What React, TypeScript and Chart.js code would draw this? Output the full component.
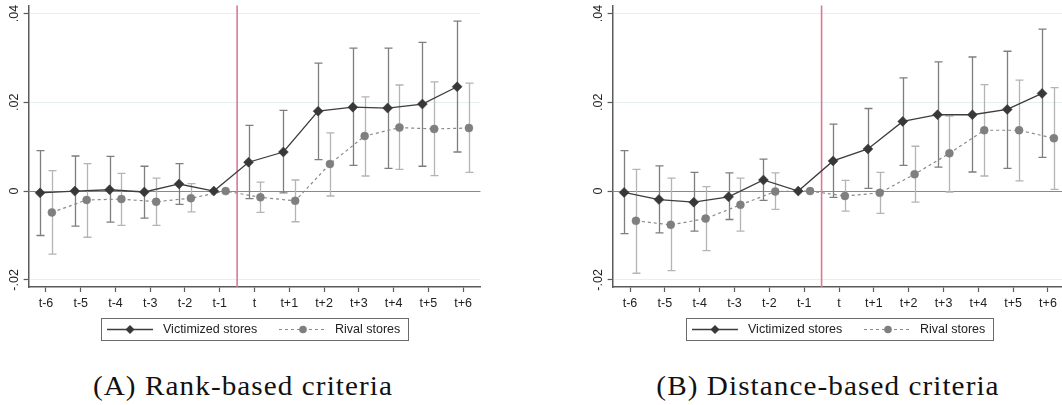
import React, { useEffect, useRef } from "react";
import { Chart, registerables } from "chart.js";

Chart.register(...registerables);

// ---------- data ----------
const periods = ["t-6", "t-5", "t-4", "t-3", "t-2", "t-1", "t", "t+1", "t+2", "t+3", "t+4", "t+5", "t+6"];
const yTickValues = [-0.02, 0, 0.02, 0.04];
const yTickLabels = ["-.02", "0", ".02", ".04"];
const legendLabels = ["Victimized stores", "Rival stores"];
const captions = ["(A) Rank-based criteria", "(B) Distance-based criteria"];

// Panel A: rank-based criteria
const rankVictim = [-0.0004, 0.0, 0.0003, -0.0002, 0.0016, 0, 0.0065, 0.0088, 0.018, 0.0189, 0.0187, 0.0196, 0.0235];
const rankVictimHi = [0.0091, 0.0079, 0.0078, 0.0056, 0.0062, null, 0.0148, 0.0182, 0.0288, 0.0322, 0.0322, 0.0335, 0.0383];
const rankVictimLo = [-0.01, -0.0079, -0.007, -0.0061, -0.003, null, -0.0017, -0.0004, 0.0071, 0.0058, 0.0051, 0.0056, 0.0088];
const rankRival = [-0.0048, -0.002, -0.0018, -0.0024, -0.0016, 0, -0.0014, -0.0022, 0.0061, 0.0124, 0.0143, 0.014, 0.0142];
const rankRivalHi = [0.0046, 0.0062, 0.004, 0.0029, 0.0017, null, 0.002, 0.0025, 0.0131, 0.0212, 0.0239, 0.0246, 0.0243];
const rankRivalLo = [-0.0142, -0.0104, -0.0077, -0.0077, -0.0047, null, -0.0048, -0.0069, -0.0011, 0.0034, 0.0049, 0.0035, 0.0042];

// Panel B: distance-based criteria
const distVictim = [-0.0003, -0.0019, -0.0025, -0.0013, 0.0025, 0, 0.0068, 0.0095, 0.0157, 0.0172, 0.0172, 0.0184, 0.022];
const distVictimHi = [0.0091, 0.0057, 0.0042, 0.0041, 0.0072, null, 0.0151, 0.0186, 0.0255, 0.0291, 0.0302, 0.0315, 0.0365];
const distVictimLo = [-0.0096, -0.0094, -0.009, -0.0064, -0.0021, null, -0.0014, 0.0006, 0.0058, 0.0054, 0.0043, 0.0051, 0.0076];
const distRival = [-0.0067, -0.0076, -0.0062, -0.0031, -0.0001, 0, -0.0011, -0.0004, 0.0038, 0.0085, 0.0137, 0.0137, 0.0119];
const distRivalHi = [0.0049, 0.0029, 0.001, 0.0029, 0.0041, null, 0.0024, 0.0042, 0.0101, 0.0169, 0.024, 0.025, 0.0233];
const distRivalLo = [-0.0185, -0.0179, -0.0134, -0.009, -0.0041, null, -0.0045, -0.005, -0.0025, -0.0002, 0.0034, 0.0023, 0.0004];

// ---------- styling ----------
const FONT = "'Liberation Sans', Arial, sans-serif";
const TICK_FONT_SIZE = 12.5;
const TEXT_COLOR = "#222222";
const AXIS_COLOR = "#5a5a5a";
const GRID_COLOR = "#e6efef";
const ZERO_COLOR = "#7c7cf2";
const EVENT_COLOR = "#d97a92";
const DODGE = 0.17;
const CANVAS_H = 345;

const refLinesPlugin = {
  id: "refLines",
  beforeDatasetsDraw(chart: any) {
    const { ctx, chartArea: a, scales } = chart;
    const x = scales.x;
    const y = scales.y;
    ctx.save();
    const y0 = Math.round(y.getPixelForValue(0)) + 0.5;
    ctx.strokeStyle = ZERO_COLOR;
    ctx.lineWidth = 1.2;
    ctx.beginPath();
    ctx.moveTo(a.left, y0);
    ctx.lineTo(a.right, y0);
    ctx.stroke();
    const xe = x.getPixelForValue(-0.5);
    ctx.strokeStyle = EVENT_COLOR;
    ctx.lineWidth = 1.6;
    ctx.beginPath();
    ctx.moveTo(xe, a.top);
    ctx.lineTo(xe, a.bottom);
    ctx.stroke();
    ctx.restore();
  },
};

const errorBarPlugin = {
  id: "errorBars",
  beforeDatasetsDraw(chart: any) {
    const { ctx, scales } = chart;
    const y = scales.y;
    ctx.save();
    chart.data.datasets.forEach((ds: any, i: number) => {
      const meta = chart.getDatasetMeta(i);
      ctx.strokeStyle = ds.errColor;
      ctx.lineWidth = 1.3;
      meta.data.forEach((pt: any, j: number) => {
        const lo = ds.errLo[j];
        const hi = ds.errHi[j];
        if (lo == null || hi == null) return;
        const px = Math.round(pt.x) + 0.5;
        const yl = y.getPixelForValue(lo);
        const yh = y.getPixelForValue(hi);
        ctx.beginPath();
        ctx.moveTo(px, yl);
        ctx.lineTo(px, yh);
        ctx.moveTo(px - 4, yl);
        ctx.lineTo(px + 4, yl);
        ctx.moveTo(px - 4, yh);
        ctx.lineTo(px + 4, yh);
        ctx.stroke();
      });
    });
    ctx.restore();
  },
};

const yLabelPlugin = {
  id: "yLabels",
  afterDraw(chart: any) {
    const { ctx, chartArea: a, scales } = chart;
    const y = scales.y;
    ctx.save();
    ctx.fillStyle = TEXT_COLOR;
    ctx.font = `${TICK_FONT_SIZE}px ${FONT}`;
    ctx.textAlign = "center";
    ctx.textBaseline = "middle";
    yTickValues.forEach((v, i) => {
      const py = y.getPixelForValue(v);
      ctx.save();
      ctx.translate(a.left - 14.5, py);
      ctx.rotate(-Math.PI / 2);
      ctx.fillText(yTickLabels[i], 0, 0);
      ctx.restore();
    });
    ctx.restore();
  },
};

function drawDiamond(ctx: CanvasRenderingContext2D, x: number, y: number, r: number) {
  ctx.beginPath();
  ctx.moveTo(x - r, y);
  ctx.lineTo(x, y - r);
  ctx.lineTo(x + r, y);
  ctx.lineTo(x, y + r);
  ctx.closePath();
  ctx.fill();
}

const legendPlugin = {
  id: "boxLegend",
  afterDraw(chart: any) {
    const { ctx, chartArea: a } = chart;
    const ds = chart.data.datasets;
    const boxW = 307;
    const boxH = 22;
    const bx = Math.round((a.left + a.right) / 2 - boxW / 2);
    const by = 318;
    const my = by + boxH / 2 + 0.5;
    ctx.save();
    ctx.fillStyle = "#ffffff";
    ctx.fillRect(bx, by, boxW, boxH);
    ctx.strokeStyle = "#6a6a6a";
    ctx.lineWidth = 1;
    ctx.strokeRect(bx + 0.5, by + 0.5, boxW, boxH);

    // victimized
    ctx.strokeStyle = ds[0].borderColor;
    ctx.lineWidth = ds[0].borderWidth;
    ctx.setLineDash([]);
    ctx.beginPath();
    ctx.moveTo(bx + 6, my);
    ctx.lineTo(bx + 52, my);
    ctx.stroke();
    ctx.fillStyle = ds[0].pointBackgroundColor;
    drawDiamond(ctx, bx + 29, my, 4.5);

    // rival
    ctx.strokeStyle = ds[1].borderColor;
    ctx.lineWidth = ds[1].borderWidth;
    ctx.setLineDash(ds[1].borderDash);
    ctx.beginPath();
    ctx.moveTo(bx + 178, my);
    ctx.lineTo(bx + 225, my);
    ctx.stroke();
    ctx.setLineDash([]);
    ctx.fillStyle = ds[1].pointBackgroundColor;
    ctx.beginPath();
    ctx.arc(bx + 202, my, 3.8, 0, Math.PI * 2);
    ctx.fill();

    ctx.fillStyle = TEXT_COLOR;
    ctx.font = `${TICK_FONT_SIZE}px ${FONT}`;
    ctx.textAlign = "left";
    ctx.textBaseline = "middle";
    ctx.fillText(ds[0].label, bx + 62, my);
    ctx.fillText(ds[1].label, bx + 234, my);
    ctx.restore();
  },
};

type PanelProps = {
  left: number;
  width: number;
  padLeft: number;
  padRight: number;
  victim: number[];
  victimLo: (number | null)[];
  victimHi: (number | null)[];
  rival: number[];
  rivalLo: (number | null)[];
  rivalHi: (number | null)[];
};

function Panel(p: PanelProps) {
  const ref = useRef<HTMLCanvasElement>(null);
  useEffect(() => {
    if (!ref.current) return;
    const chart = new Chart(ref.current, {
      type: "line",
      data: {
        datasets: [
          {
            label: legendLabels[0],
            data: p.victim.map((v, i) => ({ x: i - 6 - DODGE, y: v })),
            errLo: p.victimLo,
            errHi: p.victimHi,
            errColor: "#7e7e7e",
            borderColor: "#3d3d3d",
            borderWidth: 1.3,
            pointStyle: "rectRot",
            pointRadius: 5,
            pointBackgroundColor: "#383838",
            pointBorderColor: "#383838",
            pointBorderWidth: 0.5,
            tension: 0,
          } as any,
          {
            label: legendLabels[1],
            data: p.rival.map((v, i) => ({ x: i - 6 + DODGE, y: v })),
            errLo: p.rivalLo,
            errHi: p.rivalHi,
            errColor: "#b4b4b4",
            borderColor: "#8a8a8a",
            borderWidth: 1.2,
            borderDash: [3, 3],
            pointStyle: "circle",
            pointRadius: 4,
            pointBackgroundColor: "#7f7f7f",
            pointBorderColor: "#7f7f7f",
            pointBorderWidth: 0.5,
            tension: 0,
          } as any,
        ],
      },
      options: {
        animation: false,
        responsive: false,
        devicePixelRatio: 1,
        layout: { padding: { top: 5, left: p.padLeft, right: p.padRight, bottom: 0 } },
        plugins: { legend: { display: false }, tooltip: { enabled: false } },
        scales: {
          x: {
            type: "linear",
            min: -6.5,
            max: 6.5,
            afterBuildTicks: (s: any) => {
              s.ticks = periods.map((_, i) => ({ value: i - 6 }));
            },
            afterFit: (s: any) => {
              s.height = CANVAS_H - 287;
            },
            ticks: {
              autoSkip: false,
              maxRotation: 0,
              minRotation: 0,
              padding: 4,
              color: TEXT_COLOR,
              font: { family: FONT, size: TICK_FONT_SIZE },
              callback: (v: any) => periods[Math.round(Number(v)) + 6],
            },
            grid: { drawOnChartArea: false, drawTicks: true, tickLength: 5, tickColor: AXIS_COLOR, tickWidth: 1.2 },
            border: { display: true, color: AXIS_COLOR, width: 1.5 },
          },
          y: {
            type: "linear",
            min: -0.0216,
            max: 0.0418,
            afterBuildTicks: (s: any) => {
              s.ticks = yTickValues.map((v) => ({ value: v }));
            },
            afterFit: (s: any) => {
              s.width = 28.6;
            },
            ticks: { display: false },
            grid: { color: GRID_COLOR, lineWidth: 1, drawTicks: true, tickLength: 5, tickColor: AXIS_COLOR, tickWidth: 1.2 },
            border: { display: true, color: AXIS_COLOR, width: 1.5 },
          },
        },
      } as any,
      plugins: [refLinesPlugin, errorBarPlugin, yLabelPlugin, legendPlugin],
    });
    return () => chart.destroy();
  }, []);
  return (
    <canvas
      ref={ref}
      width={p.width}
      height={CANVAS_H}
      style={{ position: "absolute", left: p.left, top: 0, width: p.width, height: CANVAS_H }}
    />
  );
}

const captionStyle: React.CSSProperties = {
  position: "absolute",
  top: 373,
  width: 500,
  textAlign: "center",
  fontFamily: "'Liberation Serif', 'Times New Roman', serif",
  fontSize: 27,
  lineHeight: "26px",
  letterSpacing: "1px",
  transform: "scaleX(1.08)",
  transformOrigin: "50% 50%",
  whiteSpace: "nowrap",
  color: "#111",
};

export default function App() {
  return (
    <div
      style={{
        position: "fixed",
        left: 0,
        top: 0,
        width: 1062,
        height: 405,
        overflow: "hidden",
        background: "#ffffff",
      }}
    >
      <Panel
        left={0}
        width={531}
        padLeft={0}
        padRight={50.6}
        victim={rankVictim}
        victimLo={rankVictimLo}
        victimHi={rankVictimHi}
        rival={rankRival}
        rivalLo={rankRivalLo}
        rivalHi={rankRivalHi}
      />
      <Panel
        left={531}
        width={545}
        padLeft={53}
        padRight={10.6}
        victim={distVictim}
        victimLo={distVictimLo}
        victimHi={distVictimHi}
        rival={distRival}
        rivalLo={distRivalLo}
        rivalHi={distRivalHi}
      />
      <div style={{ ...captionStyle, left: 243 - 250 }}>{captions[0]}</div>
      <div style={{ ...captionStyle, left: 827.5 - 250 }}>{captions[1]}</div>
    </div>
  );
}
